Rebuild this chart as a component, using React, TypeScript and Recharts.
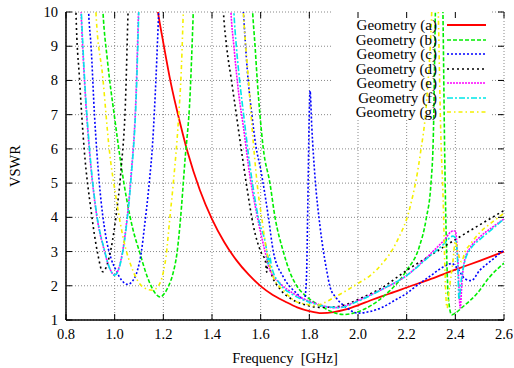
import { LineChart, Line, XAxis, YAxis, CartesianGrid } from 'recharts'

// VSWR curves, [frequency GHz, VSWR]; values above 10 run off the top of the plot
const geometryA: [number, number][] = [
  [1.17, 10.4], [1.178, 10], [1.2, 9.1], [1.23, 7.95], [1.27, 6.72], [1.3, 5.9], [1.35, 4.8],
  [1.4, 3.95], [1.45, 3.28], [1.5, 2.75], [1.55, 2.33], [1.6, 1.99], [1.65, 1.73], [1.7, 1.54],
  [1.75, 1.37], [1.8, 1.26], [1.85, 1.2], [1.9, 1.23], [1.95, 1.31], [2.0, 1.43], [2.05, 1.57],
  [2.1, 1.7], [2.15, 1.82], [2.2, 1.95], [2.3, 2.2], [2.4, 2.47], [2.5, 2.73], [2.6, 3.0],
]

const geometryB: [number, number][] = [
  [0.945, 11], [0.952, 10], [0.97, 8.6], [1.0, 6.9], [1.025, 5.6], [1.05, 4.5], [1.075, 3.65],
  [1.104, 2.95], [1.125, 2.45], [1.145, 2.07], [1.165, 1.8], [1.187, 1.67], [1.205, 1.78],
  [1.222, 2.0], [1.24, 2.37], [1.256, 2.95], [1.269, 3.83], [1.289, 5.67], [1.31, 7.6],
  [1.323, 10], [1.33, 11.5], [1.45, 14], [1.56, 11], [1.567, 10], [1.577, 9], [1.586, 8],
  [1.597, 7], [1.611, 6], [1.638, 5.0], [1.659, 4.0], [1.693, 3.0], [1.72, 2.4], [1.748, 2.0],
  [1.789, 1.68], [1.844, 1.42], [1.89, 1.25], [1.94, 1.16], [1.98, 1.2], [2.03, 1.33],
  [2.08, 1.55], [2.13, 1.85], [2.17, 2.15], [2.2, 2.45], [2.25, 3.1], [2.28, 3.95], [2.3, 5.0],
  [2.31, 6.5], [2.318, 10], [2.325, 12], [2.333, 14], [2.342, 12], [2.349, 10], [2.356, 6],
  [2.364, 3.0], [2.372, 1.6], [2.385, 1.15], [2.4, 1.2], [2.43, 1.38], [2.49, 1.78],
  [2.54, 2.25], [2.6, 2.66],
]

const geometryC: [number, number][] = [
  [0.888, 11], [0.893, 10], [0.903, 9], [0.917, 7], [0.937, 5], [0.964, 3.43], [0.985, 2.8],
  [1.005, 2.46], [1.03, 2.15], [1.053, 2.04], [1.075, 2.15], [1.094, 2.46], [1.11, 3.0],
  [1.122, 3.7], [1.142, 5.0], [1.156, 6.17], [1.17, 8.1], [1.181, 10], [1.19, 11.5], [1.35, 14],
  [1.52, 11], [1.529, 10], [1.545, 8.3], [1.563, 7.05], [1.58, 6.1], [1.6, 5.4], [1.632, 4.0],
  [1.652, 3.0], [1.693, 2.26], [1.748, 1.78], [1.78, 1.6], [1.788, 2.2], [1.794, 4.5],
  [1.799, 6.8], [1.803, 7.7], [1.81, 6.65], [1.823, 5.2], [1.844, 3.73], [1.871, 2.46],
  [1.885, 1.97], [1.91, 1.65], [1.95, 1.38], [2.0, 1.2], [2.05, 1.25], [2.1, 1.37], [2.15, 1.57],
  [2.2, 1.78], [2.25, 2.05], [2.3, 2.3], [2.35, 2.55], [2.385, 2.65], [2.41, 2.5], [2.44, 2.2],
  [2.465, 2.15], [2.5, 2.45], [2.55, 2.75], [2.6, 3.05],
]

const geometryD: [number, number][] = [
  [0.838, 11], [0.841, 10], [0.855, 8.1], [0.875, 5.97], [0.903, 4.2], [0.93, 2.95],
  [0.951, 2.41], [0.978, 2.85], [1.005, 4.0], [1.026, 5.38], [1.045, 7.5], [1.055, 10],
  [1.062, 11.5], [1.25, 14], [1.44, 11], [1.447, 10], [1.46, 9], [1.48, 8], [1.5, 7], [1.52, 6],
  [1.545, 4.8], [1.57, 3.75], [1.6, 3.0], [1.62, 2.7], [1.625, 2.4], [1.63, 2.85], [1.64, 2.45],
  [1.68, 1.9], [1.73, 1.6], [1.79, 1.43], [1.84, 1.37], [1.9, 1.38], [1.95, 1.45], [2.0, 1.6],
  [2.1, 1.95], [2.2, 2.45], [2.3, 2.9], [2.4, 3.35], [2.5, 3.78], [2.6, 4.2],
]

const geometryE: [number, number][] = [
  [0.857, 11], [0.862, 10], [0.875, 8.1], [0.896, 5.97], [0.923, 4.2], [0.957, 3.04],
  [0.98, 2.5], [1.0, 2.31], [1.019, 2.56], [1.047, 3.73], [1.067, 5.19], [1.088, 7.62],
  [1.098, 10], [1.105, 11.5], [1.3, 14], [1.472, 11], [1.478, 10], [1.49, 9], [1.51, 7.6],
  [1.53, 6.6], [1.556, 5.2], [1.584, 4.1], [1.618, 3.0], [1.638, 2.46], [1.68, 2.07],
  [1.734, 1.78], [1.789, 1.58], [1.844, 1.44], [1.9, 1.36], [1.95, 1.42], [2.0, 1.57],
  [2.1, 1.9], [2.2, 2.3], [2.3, 2.95], [2.35, 3.3], [2.39, 3.6], [2.4, 3.6], [2.41, 2.8],
  [2.42, 1.35], [2.428, 2.2], [2.44, 2.8], [2.46, 3.1], [2.5, 3.42], [2.55, 3.7], [2.6, 3.95],
]

const geometryF: [number, number][] = [
  [0.857, 11], [0.863, 10], [0.876, 8.1], [0.897, 5.97], [0.924, 4.2], [0.958, 3.04],
  [0.98, 2.5], [1.0, 2.31], [1.02, 2.56], [1.048, 3.73], [1.068, 5.19], [1.089, 7.62],
  [1.099, 10], [1.105, 11.5], [1.3, 14], [1.484, 11], [1.49, 10], [1.5, 9], [1.515, 7.9],
  [1.53, 7.0], [1.556, 5.5], [1.59, 4.0], [1.625, 3.0], [1.632, 2.6], [1.636, 2.9],
  [1.645, 2.55], [1.68, 2.05], [1.73, 1.75], [1.79, 1.55], [1.85, 1.42], [1.92, 1.36],
  [2.0, 1.55], [2.1, 1.9], [2.2, 2.3], [2.3, 2.9], [2.35, 3.2], [2.39, 3.45], [2.4, 3.4],
  [2.41, 2.6], [2.415, 1.6], [2.425, 2.2], [2.44, 2.75], [2.46, 3.05], [2.5, 3.35], [2.55, 3.65],
  [2.6, 3.95],
]

const geometryG: [number, number][] = [
  [0.918, 11], [0.923, 10], [0.951, 8.1], [0.978, 5.97], [1.005, 4.6], [1.04, 3.24],
  [1.074, 2.46], [1.115, 1.97], [1.155, 1.87], [1.18, 2.0], [1.2, 2.4], [1.211, 2.85],
  [1.227, 4.0], [1.241, 5.0], [1.262, 6.84], [1.275, 8.5], [1.282, 10], [1.29, 11.5], [1.4, 14],
  [1.522, 11], [1.529, 10], [1.549, 8.1], [1.57, 6.16], [1.59, 4.7], [1.604, 4.0], [1.625, 3.0],
  [1.652, 2.26], [1.693, 1.87], [1.748, 1.53], [1.789, 1.46], [1.82, 1.42], [1.86, 1.5],
  [1.9, 1.65], [1.95, 1.85], [2.0, 2.07], [2.05, 2.3], [2.1, 2.65], [2.16, 3.3], [2.214, 4.3],
  [2.255, 5.8], [2.282, 7.4], [2.303, 10], [2.31, 11.5], [2.32, 13], [2.33, 10], [2.34, 6.5],
  [2.35, 4.5], [2.357, 2.56], [2.362, 1.6], [2.366, 1.35], [2.375, 1.9], [2.39, 2.7], [2.4, 3.3],
  [2.41, 3.0], [2.425, 2.7], [2.44, 3.0], [2.46, 3.2], [2.5, 3.55], [2.55, 3.85], [2.6, 4.12],
]

const freqTicks = [0.8, 1.0, 1.2, 1.4, 1.6, 1.8, 2.0, 2.2, 2.4, 2.6]
const vswrTicks = [1, 2, 3, 4, 5, 6, 7, 8, 9, 10]

const series = [
  { name: 'Geometry (a)', points: geometryA, color: '#ff0000', dash: undefined, width: 1.8 },
  { name: 'Geometry (b)', points: geometryB, color: '#00ee00', dash: '4 2', width: 1.6 },
  { name: 'Geometry (c)', points: geometryC, color: '#0000ff', dash: '2 2', width: 1.6 },
  { name: 'Geometry (d)', points: geometryD, color: '#000000', dash: '2 3', width: 1.6 },
  { name: 'Geometry (e)', points: geometryE, color: '#ff00ff', dash: '2 1', width: 1.6 },
  { name: 'Geometry (f)', points: geometryF, color: '#00e8e8', dash: '6 2 2 2', width: 1.6 },
  { name: 'Geometry (g)', points: geometryG, color: '#f4f000', dash: '4 3 1.5 3', width: 1.6 },
]

const FONT = "'Liberation Serif', 'Times New Roman', serif"
// area behind the key where the grid is left out
const KEY_BOX = { left: 333, right: 492, bottom: 120 }
const GRID = { stroke: '#888', strokeDasharray: '1 2' }

function hGridLine(p: any) {
  const { x1, x2, y1, index } = p
  const segs = y1 < KEY_BOX.bottom ? [[x1, KEY_BOX.left], [KEY_BOX.right, x2]] : [[x1, x2]]
  return (
    <g key={`h-${index}`}>
      {segs.map(([a, b], i) => (
        <line key={i} x1={a} x2={b} y1={y1} y2={y1} {...GRID} />
      ))}
      <line x1={x1} x2={x1 + 6} y1={y1} y2={y1} stroke="#000" />
      <line x1={x2 - 6} x2={x2} y1={y1} y2={y1} stroke="#000" />
    </g>
  )
}

function vGridLine(p: any) {
  const { x1, y1, y2, index } = p
  const top = x1 > KEY_BOX.left && x1 < KEY_BOX.right ? KEY_BOX.bottom : y1
  return (
    <g key={`v-${index}`}>
      <line x1={x1} x2={x1} y1={top} y2={y2} {...GRID} />
      <line x1={x1} x2={x1} y1={y1} y2={y1 + 6} stroke="#000" />
      <line x1={x1} x2={x1} y1={y2 - 6} y2={y2} stroke="#000" />
    </g>
  )
}

const FreqTick = ({ x, y, payload }: any) => (
  <text className="serif" x={x} y={y} dy={10.5} textAnchor="middle" fill="#000" fontSize={14.5}>
    {Number(payload.value).toFixed(1)}
  </text>
)

const VswrTick = ({ x, y, payload }: any) => (
  <text className="serif" x={x} y={y} dy={5} textAnchor="end" fill="#000" fontSize={14.5}>
    {payload.value}
  </text>
)

export default function App() {
  const border = { stroke: '#000', strokeWidth: 1.5 }

  return (
    <div className="serif" style={{ position: 'absolute', left: 0, top: 0, width: 514, height: 368, background: '#fff' }}>
      <style>{`.serif, .serif text { font-family: ${FONT} !important; }`}</style>
      <LineChart width={514} height={368} margin={{ top: 12, right: 10, left: 0, bottom: 0 }}>
        <CartesianGrid horizontal={hGridLine} vertical={vGridLine} />
        <XAxis
          dataKey="f"
          type="number"
          domain={[0.8, 2.6]}
          ticks={freqTicks}
          allowDataOverflow
          height={48}
          tickLine={false}
          tickMargin={2}
          axisLine={border}
          tick={FreqTick}
          label={{
            content: ({ viewBox }: any) => (
              <text className="serif" x={viewBox.x + viewBox.width / 2} y={viewBox.y + 43} textAnchor="middle" fill="#000" fontSize={14.5}>
                {'Frequency\u00a0 [GHz]'}
              </text>
            ),
          }}
        />
        <XAxis xAxisId="top" orientation="top" type="number" domain={[0.8, 2.6]} height={0} tick={false} tickLine={false} axisLine={border} />
        <YAxis
          type="number"
          domain={[1, 10]}
          ticks={vswrTicks}
          allowDataOverflow
          width={66}
          tickLine={false}
          axisLine={border}
          tick={VswrTick}
          label={{
            content: ({ viewBox }: any) => {
              const cx = viewBox.x + 15
              const cy = viewBox.y + viewBox.height / 2
              return (
                <text className="serif" x={cx} y={cy} transform={`rotate(-90 ${cx} ${cy})`} textAnchor="middle" dominantBaseline="central" fill="#000" fontSize={14.5}>
                  VSWR
                </text>
              )
            },
          }}
        />
        <YAxis yAxisId="right" orientation="right" type="number" domain={[1, 10]} width={0} tick={false} tickLine={false} axisLine={border} />
        {series.map((s) => (
          <Line
            key={s.name}
            name={s.name}
            data={s.points.map(([f, v]) => ({ f, v }))}
            dataKey="v"
            type="monotone"
            stroke={s.color}
            strokeWidth={s.width}
            strokeDasharray={s.dash}
            dot={false}
            activeDot={false}
            isAnimationActive={false}
          />
        ))}
      </LineChart>
      <div style={{ position: 'absolute', left: 330, top: 18 }}>
        {series.map((s) => (
          <div key={s.name} style={{ display: 'flex', alignItems: 'center', height: 14.5 }}>
            <span style={{ width: 107, textAlign: 'right', fontSize: 15, lineHeight: '14.5px', color: '#000' }}>{s.name}</span>
            <svg width={49} height={14} style={{ marginLeft: 10 }}>
              <line x1={0} x2={39} y1={7} y2={7} stroke={s.color} strokeWidth={s.width} strokeDasharray={s.dash} />
            </svg>
          </div>
        ))}
      </div>
    </div>
  )
}
